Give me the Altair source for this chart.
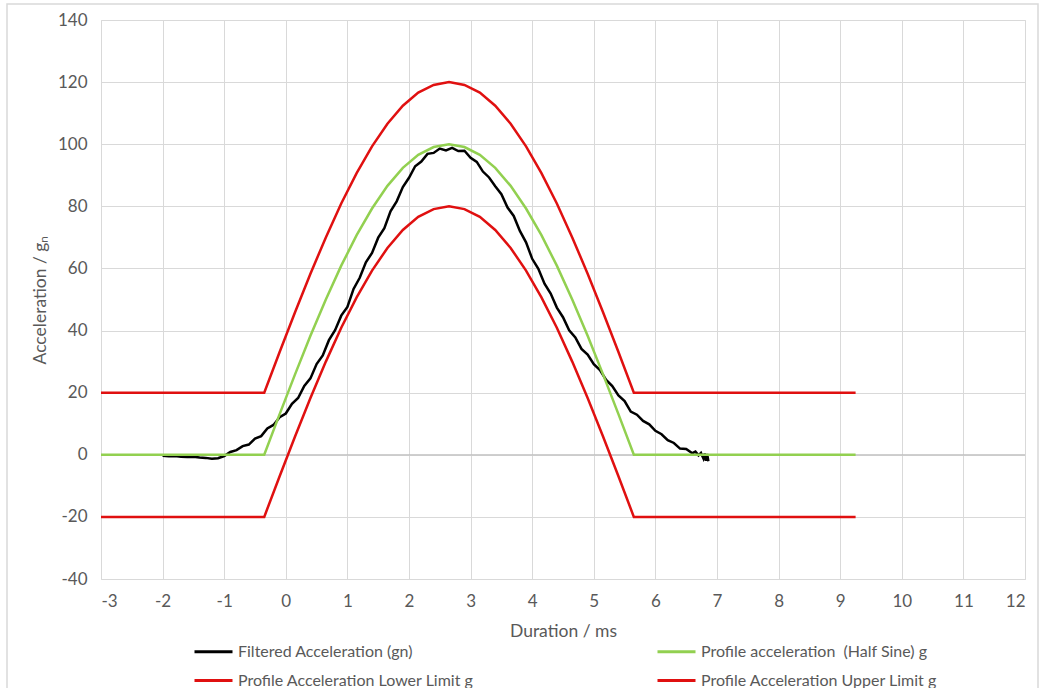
import altair as alt
import pandas as pd

# ---- data ----
series_names = [
    "Filtered Acceleration (gn)",
    "Profile acceleration\u00a0 (Half Sine) g",
    "Profile Acceleration Lower Limit g",
    "Profile Acceleration Upper Limit g",
]
series_colors = ["#000000", "#92d050", "#e01010", "#e01010"]
# legend is filled column by column: put entries so rows read as in the reference
legend_order = [series_names[0], series_names[2], series_names[1], series_names[3]]
legend_colors = [series_colors[0], series_colors[2], series_colors[1], series_colors[3]]

profile_t = [-3.0, -0.35, -0.1, 0.15, 0.4, 0.65, 0.9, 1.15, 1.4, 1.65, 1.9, 2.15, 2.4, 2.65,
             2.9, 3.15, 3.4, 3.65, 3.9, 4.15, 4.4, 4.65, 4.9, 5.15, 5.4, 5.65, 9.25]
half_sine = [0, 0, 13.1, 25.9, 38.3, 50.0, 60.9, 70.7, 79.3, 86.6, 92.4, 96.6, 99.1, 100,
             99.1, 96.6, 92.4, 86.6, 79.3, 70.7, 60.9, 50.0, 38.3, 25.9, 13.1, 0, 0]
upper_limit = [20, 20, 33.1, 45.9, 58.3, 70.0, 80.9, 90.7, 99.3, 106.6, 112.4, 116.6, 119.1, 120,
               119.1, 116.6, 112.4, 106.6, 99.3, 90.7, 80.9, 70.0, 58.3, 45.9, 33.1, 20, 20]
lower_limit = [-20, -20, -6.9, 5.9, 18.3, 30.0, 40.9, 50.7, 59.3, 66.6, 72.4, 76.6, 79.1, 80,
               79.1, 76.6, 72.4, 66.6, 59.3, 50.7, 40.9, 30.0, 18.3, 5.9, -6.9, -20, -20]

filtered_t = [-2.0, -1.9, -1.8, -1.7, -1.6, -1.5, -1.4, -1.3, -1.2, -1.1,
              -1.0, -0.9, -0.8, -0.7, -0.6, -0.5, -0.4, -0.3, -0.2, -0.1,
              0.0, 0.1, 0.2, 0.3, 0.4, 0.5, 0.6, 0.7, 0.8, 0.9,
              1.0, 1.1, 1.2, 1.3, 1.4, 1.5, 1.6, 1.7, 1.8, 1.9,
              2.0, 2.1, 2.2, 2.3, 2.4, 2.5, 2.6, 2.7, 2.8, 2.9,
              3.0, 3.1, 3.2, 3.3, 3.4, 3.5, 3.6, 3.7, 3.8, 3.9,
              4.0, 4.1, 4.2, 4.3, 4.4, 4.5, 4.6, 4.7, 4.8, 4.9,
              5.0, 5.1, 5.2, 5.3, 5.4, 5.5, 5.6, 5.7, 5.8, 5.9,
              6.0, 6.1, 6.2, 6.3, 6.4, 6.5, 6.6, 6.65, 6.7, 6.74,
              6.78, 6.8, 6.82, 6.84, 6.86]
filtered_acc = [-0.3, -0.5, -0.4, -0.6, -0.7, -0.6, -0.9, -1.0, -1.3, -1.1,
                -0.4, 0.9, 1.5, 2.8, 3.3, 5.2, 6.0, 8.5, 9.6, 12.1,
                13.3, 16.4, 18.3, 22.2, 24.6, 29.2, 32.0, 36.9, 40.1, 44.8,
                47.6, 53.4, 57.0, 62.0, 65.0, 69.9, 73.0, 78.4, 81.6, 86.2,
                89.2, 92.9, 94.4, 96.9, 97.2, 98.6, 98.0, 98.8, 97.8, 97.9,
                95.6, 94.3, 91.2, 89.3, 86.5, 83.9, 79.6, 76.9, 72.1, 68.4,
                63.1, 59.9, 55.1, 51.9, 47.4, 44.3, 40.1, 37.8, 34.1, 32.3,
                29.2, 27.3, 24.1, 22.1, 19.1, 17.3, 13.9, 12.9, 10.9, 9.8,
                7.7, 6.6, 4.7, 3.8, 2.0, 1.9, 0.5, 1.0, -0.2, 0.6,
                -1.2, 0.4, -1.9, 0.3, -2.1]

x_ticks = list(range(-3, 13))
y_ticks = list(range(-40, 141, 20))

# ---- long table ----
rows = []
for t, v in zip(filtered_t, filtered_acc):
    rows.append({"series": series_names[0], "t": t, "v": v, "o": len(rows)})
for name, vals in [(series_names[1], half_sine), (series_names[2], lower_limit), (series_names[3], upper_limit)]:
    for t, v in zip(profile_t, vals):
        rows.append({"series": name, "t": t, "v": v, "o": len(rows)})
df = pd.DataFrame(rows)

FONT = "Lato"
GREY = "#595959"

x_scale = alt.Scale(domain=[-3, 12], nice=False, zero=False)
y_scale = alt.Scale(domain=[-40, 140], nice=False, zero=False)

lines = alt.Chart(df).mark_line(strokeWidth=2.5, clip=True).encode(
    x=alt.X("t:Q", scale=x_scale,
            axis=alt.Axis(title="Duration / ms", values=x_ticks, labelExpr="datum.value + ''",
                          grid=True, gridColor="#d9d9d9", domain=False, ticks=False,
                          labelFontSize=17, labelColor=GREY, labelFont=FONT, labelPadding=14,
                          titleFontSize=17.5, titleColor=GREY, titleFont=FONT, titleFontWeight="normal",
                          titlePadding=13)),
    y=alt.Y("v:Q", scale=y_scale,
            axis=alt.Axis(title="Acceleration / g\u2099", values=y_ticks, labelExpr="datum.value + ''",
                          grid=True, gridColor="#d9d9d9", domain=False, ticks=False,
                          labelFontSize=17, labelColor=GREY, labelFont=FONT, labelPadding=14,
                          titleFontSize=17.5, titleColor=GREY, titleFont=FONT, titleFontWeight="normal",
                          titlePadding=8)),
    color=alt.Color("series:N", sort=legend_order,
                    scale=alt.Scale(domain=legend_order, range=legend_colors),
                    legend=alt.Legend(title=None, orient="none", legendX=92, legendY=611,
                                      columns=2, columnPadding=177, rowPadding=-17,
                                      symbolType="stroke", symbolSize=1444, symbolStrokeWidth=3,
                                      labelFont=FONT, labelFontSize=16, labelColor=GREY,
                                      labelOffset=4, labelLimit=400)),
    order=alt.Order("o:Q"),
    detail="series:N",
)

zero_df = pd.DataFrame({"v": [0]})
zero_rule = alt.Chart(zero_df).mark_rule(color="#bfbfbf", strokeWidth=1.2).encode(
    y=alt.Y("v:Q", scale=y_scale)
)

frame_df = pd.DataFrame({"k": [0]})
frame = alt.Chart(frame_df).mark_rect(fill=None, stroke="#d9d9d9", strokeWidth=1.5, clip=False).encode(
    x=alt.value(-94), x2=alt.value(937), y=alt.value(-16), y2=alt.value(700)
)

chart = alt.layer(frame, zero_rule, lines).properties(
    width=924, height=559,
    padding={"left": 101, "top": 20, "right": 20, "bottom": 109},
    autosize=alt.AutoSizeParams(type="none"),
).configure_view(stroke=None).configure(background="white")

chart.save("out.html", embed_options={"renderer": "svg", "actions": False})
